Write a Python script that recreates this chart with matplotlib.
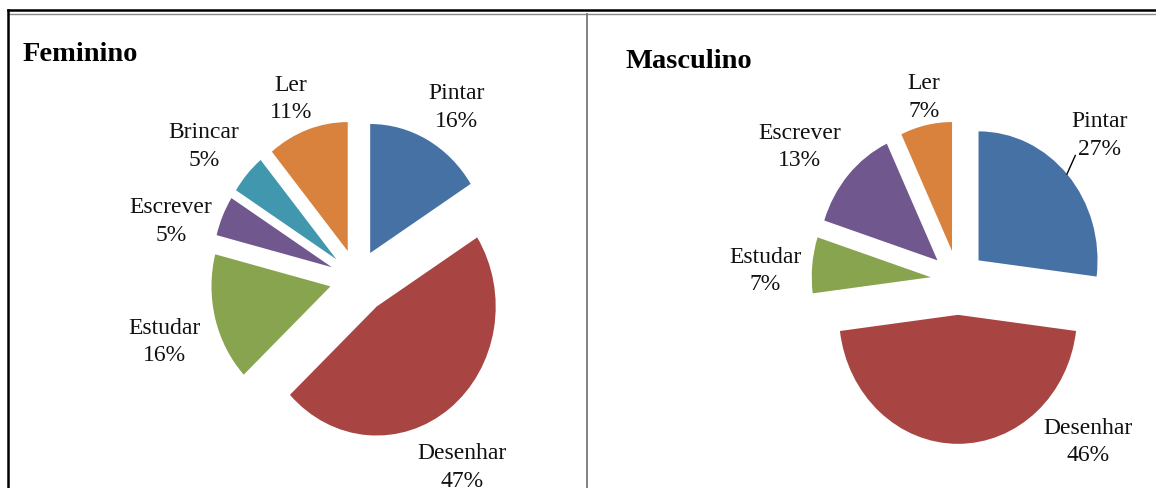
import matplotlib.pyplot as plt
from matplotlib.lines import Line2D
import numpy as np

# dados
cat_fem = ["Pintar", "Desenhar", "Estudar", "Escrever", "Brincar", "Ler"]
val_fem = [16, 47, 16, 5, 5, 11]

cat_masc = ["Pintar", "Desenhar", "Estudar", "Escrever", "Ler"]
val_masc = [27, 46, 7, 13, 7]

cores = {
    "Pintar": "#4571A4",
    "Desenhar": "#A84542",
    "Estudar": "#88A44E",
    "Escrever": "#70578E",
    "Brincar": "#4197AE",
    "Ler": "#D9823D",
}

# ajuste dos rótulos: (desvio do ângulo central em graus, distância do centro)
rot_fem = {
    "Pintar": (-3.3, 1.58),
    "Desenhar": (-6.5, 1.70),
    "Estudar": (2.2, 1.69),
    "Escrever": (7.2, 1.63),
    "Brincar": (2.5, 1.65),
    "Ler": (1.7, 1.51),
}
rot_masc = {
    "Pintar": (2.0, 1.64),
    "Desenhar": (41.2, 1.66),
    "Estudar": (2.6, 1.62),
    "Escrever": (3.4, 1.69),
    "Ler": (-1.2, 1.45),
}

W, H = 1156, 489
RX, RY = 119.0, 129.0  # raio em pixels (imagem original levemente achatada)
HALF = 200.0

plt.rcParams["font.family"] = ["Liberation Serif", "DejaVu Serif"]

fig = plt.figure(figsize=(W / 100, H / 100), dpi=100)
fig.patch.set_facecolor("white")


def eixo_pizza(cx, cy):
    ax = fig.add_axes([(cx - HALF) / W, (H - cy - HALF) / H, 2 * HALF / W, 2 * HALF / H])
    return ax


def desenhar_pizza(ax, cats, vals, rotulos):
    explode = [0.27 if c == "Desenhar" else 0.23 for c in cats]
    wedges, _ = ax.pie(
        vals,
        explode=explode,
        startangle=90,
        counterclock=False,
        colors=[cores[c] for c in cats],
        wedgeprops=dict(linewidth=0),
    )
    ax.set_aspect("auto")
    ax.set_xlim(-HALF / RX, HALF / RX)
    ax.set_ylim(-HALF / RY, HALF / RY)
    ax.axis("off")
    for w, c, v in zip(wedges, cats, vals):
        desvio, dist = rotulos[c]
        ang = np.deg2rad((w.theta1 + w.theta2) / 2 + desvio)
        ax.text(
            dist * np.cos(ang),
            dist * np.sin(ang),
            f"{c}\n{v}%",
            ha="center",
            va="center",
            fontsize=17,
            linespacing=1.4,
            color="#111111",
        )
    return wedges


ax1 = eixo_pizza(357, 280)
desenhar_pizza(ax1, cat_fem, val_fem, rot_fem)

ax2 = eixo_pizza(958, 281)
w2 = desenhar_pizza(ax2, cat_masc, val_masc, rot_masc)

# linha de chamada do rótulo Pintar (Masculino)
cxw, cyw = w2[0].center
a0, a1 = np.deg2rad(42), np.deg2rad(45)
ax2.plot(
    [cxw + np.cos(a0), cxw + 1.15 * np.cos(a1)],
    [cyw + np.sin(a0), cyw + 1.15 * np.sin(a1)],
    color="black",
    linewidth=1,
)

# títulos
fig.text(23 / W, 1 - 61 / H, "Feminino", fontsize=20.5, fontweight="bold", ha="left", va="baseline")
fig.text(625 / W, 1 - 68 / H, "Masculino", fontsize=20.5, fontweight="bold", ha="left", va="baseline")

# moldura da tabela
fig.add_artist(Line2D([8 / W, 1], [1 - 11 / H, 1 - 11 / H], color="black", linewidth=1.8))
fig.add_artist(Line2D([8 / W, 1], [1 - 15 / H, 1 - 15 / H], color="#888888", linewidth=1))
fig.add_artist(Line2D([8 / W, 8 / W], [0, 1 - 11 / H], color="black", linewidth=1.8))
fig.add_artist(Line2D([587 / W, 587 / W], [0, 1 - 15 / H], color="#777777", linewidth=1.3))

fig.savefig("out.png", dpi=100)
